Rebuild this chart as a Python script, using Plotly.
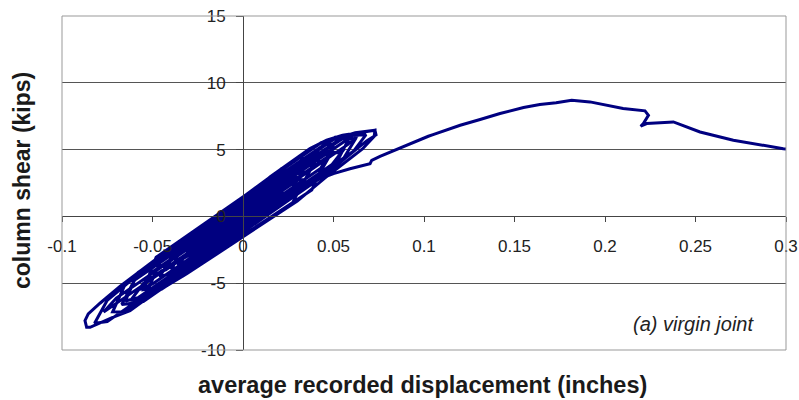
import plotly.graph_objects as go

# ---------------- data ----------------
# x: average recorded displacement (inches), y: column shear (kips)
start_x = [0.0]
start_y = [0.0]

# each cycle: reload branch -> positive peak -> unload branch -> negative peak
cycle1_x = [0.0, 0.003, 0.010, 0.003, -0.005, -0.012]
cycle1_y = [0.4, 0.68, 1.08, -0.12, -0.87, -1.28]
cycle2_x = [-0.005, 0.006, 0.013, 0.006, -0.008, -0.015]
cycle2_y = [-0.47, 0.56, 1.01, -0.14, -1.44, -1.68]
cycle3_x = [-0.008, 0.009, 0.016, 0.009, -0.012, -0.019]
cycle3_y = [0.16, 1.74, 1.99, 0.64, -1.32, -1.85]
cycle4_x = [-0.012, 0.012, 0.019, 0.012, -0.015, -0.022]
cycle4_y = [-0.52, 1.72, 1.67, 0.02, -2.50, -2.49]
cycle5_x = [-0.015, 0.015, 0.022, 0.015, -0.019, -0.026]
cycle5_y = [-1.10, 1.70, 1.85, 0.40, -2.77, -2.82]
cycle6_x = [-0.019, 0.018, 0.025, 0.018, -0.022, -0.029]
cycle6_y = [-0.77, 2.67, 2.73, 1.17, -2.55, -2.90]
cycle7_x = [-0.022, 0.021, 0.028, 0.021, -0.026, -0.033]
cycle7_y = [-0.75, 3.55, 3.40, 1.75, -2.62, -3.15]
cycle8_x = [-0.026, 0.024, 0.031, 0.024, -0.029, -0.036]
cycle8_y = [-1.82, 2.83, 2.93, 1.43, -3.50, -3.67]
cycle9_x = [-0.029, 0.027, 0.034, 0.027, -0.033, -0.040]
cycle9_y = [-2.50, 2.71, 2.76, 0.91, -4.45, -4.24]
cycle10_x = [-0.033, 0.030, 0.037, 0.030, -0.036, -0.043]
cycle10_y = [-1.87, 4.39, 4.34, 2.69, -3.45, -4.04]
cycle11_x = [-0.036, 0.033, 0.040, 0.033, -0.039, -0.046]
cycle11_y = [-2.25, 4.17, 4.12, 2.47, -4.23, -4.52]
cycle12_x = [-0.039, 0.038, 0.045, 0.038, -0.045, -0.052]
cycle12_y = [-2.93, 4.23, 4.09, 1.98, -5.45, -5.32]
cycle13_x = [-0.045, 0.041, 0.048, 0.041, -0.048, -0.055]
cycle13_y = [-3.19, 4.81, 4.56, 2.91, -5.36, -5.48]
cycle14_x = [-0.048, 0.043, 0.050, 0.043, -0.050, -0.057]
cycle14_y = [-3.06, 5.50, 5.35, 3.60, -5.05, -5.46]
cycle15_x = [-0.050, 0.047, 0.054, 0.047, -0.055, -0.062]
cycle15_y = [-4.15, 4.87, 4.72, 3.27, -6.37, -6.27]
cycle16_x = [-0.055, 0.049, 0.056, 0.049, -0.058, -0.065]
cycle16_y = [-5.02, 4.66, 5.06, 3.86, -6.09, -6.33]
cycle17_x = [-0.058, 0.051, 0.058, 0.051, -0.060, -0.067]
cycle17_y = [-4.19, 5.94, 5.69, 3.84, -6.48, -6.59]
cycle18_x = [-0.060, 0.055, 0.062, 0.055, -0.065, -0.072]
cycle18_y = [-4.78, 5.92, 5.77, 4.22, -7.15, -7.14]
cycle19_x = [-0.065, 0.058, 0.065, 0.058, -0.070, -0.077]
cycle19_y = [-5.05, 6.09, 6.25, 5.39, -6.51, -7.16]
cycle20_x = [-0.070, 0.061, 0.068, 0.061, -0.075, -0.082]
cycle20_y = [-6.11, 6.07, 6.12, 4.87, -7.88, -8.00]

# largest cycle (outermost loop)
cycle21_x = [-0.075, -0.06, 0.05, 0.062, 0.0729, 0.0725, 0.066, 0.045, 0.03, 0.0, -0.0311, -0.0496,
             -0.0624, -0.072, -0.0845, -0.0864, -0.0873, -0.0855, -0.079, -0.068, -0.0496, -0.0311,
             -0.0127, 0.0039, 0.0149, 0.025, 0.037, 0.0462, 0.055]
cycle21_y = [-6.28, -4.58, 5.75, 6.27, 6.45, 6.0, 5.05, 2.85, 1.15, -1.55, -4.3, -5.8,
             -7.05, -7.55, -8.3, -8.3, -7.8, -7.3, -6.5, -5.25, -3.35, -1.6,
             0.05, 1.6, 2.95, 3.95, 5.07, 5.7, 6.07]

# final peak, partial unload and monotonic push to 0.3 in
final_x = [0.0729, 0.0735, 0.0683, 0.0425, 0.05, 0.0591, 0.0702, 0.0711, 0.0757, 0.0812, 0.0867, 0.096,
           0.1024, 0.105, 0.120, 0.131, 0.142, 0.155, 0.164, 0.173, 0.1816, 0.1917, 0.2009, 0.210,
           0.2221, 0.224, 0.2212, 0.2197, 0.223, 0.2378, 0.2525, 0.2709, 0.2985, 0.3]
final_y = [6.45, 6.1, 5.65, 2.82, 3.2, 3.57, 3.95, 4.2, 4.5, 4.82, 5.1, 5.64,
           6.0, 6.12, 6.82, 7.25, 7.7, 8.15, 8.37, 8.5, 8.7, 8.57, 8.32, 8.07,
           7.9, 7.57, 6.95, 6.75, 6.95, 7.07, 6.32, 5.7, 5.07, 5.05]

x_tick_vals = [-0.1, -0.05, 0, 0.05, 0.1, 0.15, 0.2, 0.25, 0.3]
x_tick_text = ["-0.1", "-0.05", "0", "0.05", "0.1", "0.15", "0.2", "0.25", "0.3"]
y_tick_vals = [-10, -5, 0, 5, 10, 15]
y_tick_text = ["-10", "-5", "0", "5", "10", "15"]

x_title = "average recorded displacement (inches)"
y_title = "column shear (kips)"
note_text = "(a) virgin joint"

# ---------------- assemble path ----------------
segments_x = [start_x, cycle1_x, cycle2_x, cycle3_x, cycle4_x, cycle5_x, cycle6_x, cycle7_x,
              cycle8_x, cycle9_x, cycle10_x, cycle11_x, cycle12_x, cycle13_x, cycle14_x,
              cycle15_x, cycle16_x, cycle17_x, cycle18_x, cycle19_x, cycle20_x, cycle21_x, final_x]
segments_y = [start_y, cycle1_y, cycle2_y, cycle3_y, cycle4_y, cycle5_y, cycle6_y, cycle7_y,
              cycle8_y, cycle9_y, cycle10_y, cycle11_y, cycle12_y, cycle13_y, cycle14_y,
              cycle15_y, cycle16_y, cycle17_y, cycle18_y, cycle19_y, cycle20_y, cycle21_y, final_y]
xs, ys = [], []
for sx, sy in zip(segments_x, segments_y):
    xs.extend(sx)
    ys.extend(sy)

FONT = "Liberation Sans, Arial, sans-serif"

fig = go.Figure()
fig.add_trace(go.Scatter(x=xs, y=ys, mode="lines",
                         line=dict(color="#000080", width=3),
                         showlegend=False, hoverinfo="skip"))

fig.update_layout(
    width=799, height=400,
    margin=dict(l=62, r=13, t=16, b=50),
    paper_bgcolor="white", plot_bgcolor="white",
    font=dict(family=FONT, color="#1a1a1a"),
    xaxis=dict(range=[-0.1, 0.3], tickvals=x_tick_vals, ticktext=x_tick_text, automargin=False,
               anchor="free", position=0.4, showline=True, linecolor="#444444", linewidth=1,
               ticks="outside", ticklen=5, tickcolor="#444444", showgrid=False, zeroline=False,
               tickfont=dict(size=17, family=FONT, color="#222222"), ticklabelstandoff=9),
    yaxis=dict(range=[-10, 15], tickvals=y_tick_vals, ticktext=y_tick_text, automargin=False,
               anchor="free", position=0.25, showline=True, linecolor="#444444", linewidth=1,
               ticks="outside", ticklen=7, tickcolor="#444444", showgrid=True,
               gridcolor="#555555", gridwidth=1, zeroline=False,
               tickfont=dict(size=17, family=FONT, color="#222222"), ticklabelstandoff=7),
    shapes=[dict(type="rect", xref="x domain", yref="y domain", x0=0, x1=1, y0=0, y1=1,
                 line=dict(color="#999999", width=1), layer="above")],
    annotations=[
        dict(text="<b>" + x_title + "</b>", xref="paper", yref="paper", x=0.498, y=-0.105,
             xanchor="center", yanchor="middle", showarrow=False,
             font=dict(size=23.5, family=FONT, color="#1a1a1a")),
        dict(text="<b>" + y_title + "</b>", xref="paper", yref="paper", x=-0.0552, y=0.506,
             xanchor="center", yanchor="middle", textangle=-90, showarrow=False,
             font=dict(size=23, family=FONT, color="#1a1a1a")),
        dict(text="<i>" + note_text + "</i>", xref="paper", yref="paper", x=0.9586, y=0.078,
             xanchor="right", yanchor="middle", showarrow=False,
             font=dict(size=20, family=FONT, color="#222222")),
    ],
)

fig.write_html("out.html")
